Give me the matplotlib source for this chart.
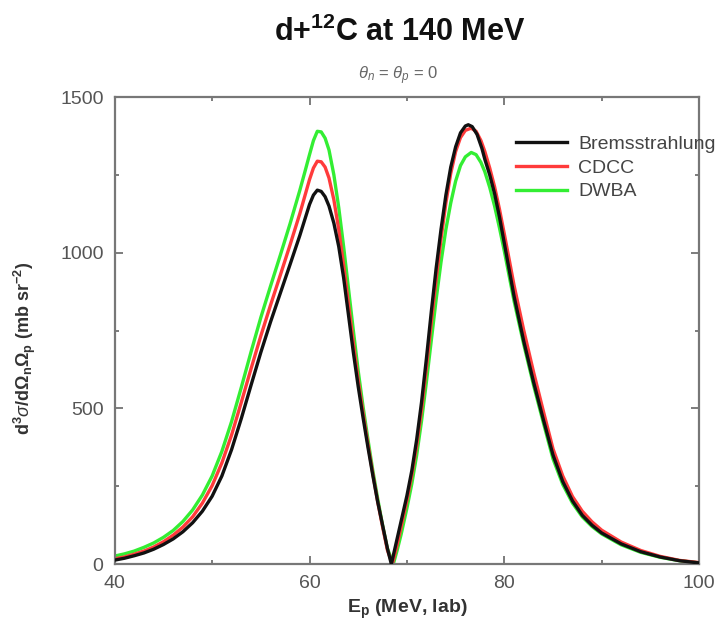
import numpy as np
import matplotlib
matplotlib.use('Agg')
import matplotlib.pyplot as plt
from matplotlib.ticker import MultipleLocator

plt.rcParams['font.family'] = ['Liberation Sans', 'DejaVu Sans']
plt.rcParams['mathtext.fontset'] = 'custom'
plt.rcParams['mathtext.rm'] = 'Liberation Sans'
plt.rcParams['mathtext.it'] = 'Liberation Sans:italic'
plt.rcParams['mathtext.bf'] = 'Liberation Sans:bold'

# proton energy (MeV, lab) and cross sections (mb sr^-2) for each model
e_brems = [40, 41, 42, 43, 44, 45, 46, 47, 48, 49, 50, 51, 52, 53, 54, 55, 56, 57, 58, 59, 59.5, 60, 60.4,
           60.8, 61.2, 61.6, 62, 62.5, 63, 63.5, 64, 64.5, 65, 65.5, 66, 66.5, 67, 67.5, 68, 68.4, 68.8, 69.2,
           70, 70.5, 71, 71.5, 72, 72.5, 73, 73.5, 74, 74.5, 75, 75.5, 76, 76.3, 76.7, 77.2, 77.7, 78, 78.5,
           79, 79.5, 80, 80.5, 81, 82, 83, 84, 85, 86, 87, 88, 89, 90, 92, 94, 96, 98, 100]
xs_brems = [13, 19, 27, 36, 48, 63, 81, 104, 133, 170, 218, 283, 368, 468, 575, 680, 778, 870, 962, 1055, 1105,
            1155, 1185, 1201, 1197, 1180, 1150, 1095, 1020, 920, 800, 680, 570, 470, 375, 285, 200, 125, 50, 0,
            55, 110, 220, 300, 400, 520, 660, 810, 950, 1075, 1185, 1275, 1340, 1385, 1407, 1411, 1405, 1380,
            1335, 1300, 1250, 1190, 1115, 1030, 945, 860, 715, 585, 465, 350, 265, 203, 157, 125, 100, 65, 40,
            23, 11, 4]

e_cdcc = [40, 41, 42, 43, 44, 45, 46, 47, 48, 49, 50, 51, 52, 53, 54, 55, 56, 57, 58, 59, 59.5, 60, 60.4,
          60.8, 61.2, 61.6, 62, 62.5, 63, 63.5, 64, 64.5, 65, 65.5, 66, 66.5, 67, 67.5, 68, 68.5, 68.9, 69.3,
          70, 70.5, 71, 71.5, 72, 72.5, 73, 73.5, 74, 74.5, 75, 75.5, 76, 76.6, 77.1, 77.6, 78, 78.5,
          79, 79.5, 80, 80.5, 81, 82, 83, 84, 85, 86, 87, 88, 89, 90, 92, 94, 96, 98, 100]
xs_cdcc = [17, 23, 32, 42, 55, 72, 93, 119, 152, 196, 252, 325, 415, 520, 628, 733, 832, 928, 1025, 1125, 1180,
           1235, 1272, 1294, 1292, 1275, 1240, 1170, 1075, 960, 835, 710, 590, 485, 385, 290, 200, 120, 45, 0,
           50, 105, 205, 285, 380, 495, 630, 775, 915, 1045, 1160, 1255, 1325, 1370, 1393, 1400, 1390, 1360,
           1325, 1272, 1212, 1140, 1060, 978, 895, 750, 617, 492, 370, 283, 217, 170, 136, 109, 71, 44, 25,
           12, 5]

e_dwba = [40, 41, 42, 43, 44, 45, 46, 47, 48, 49, 50, 51, 52, 53, 54, 55, 56, 57, 58, 59, 59.5, 60, 60.4,
          60.8, 61.2, 61.6, 62, 62.5, 63, 63.5, 64, 64.5, 65, 65.5, 66, 66.5, 67, 67.5, 68, 68.6, 69, 69.4,
          70, 70.5, 71, 71.5, 72, 72.5, 73, 73.5, 74, 74.5, 75, 75.5, 76, 76.6, 77.1, 77.6, 78, 78.5,
          79, 79.5, 80, 80.5, 81, 82, 83, 84, 85, 86, 87, 88, 89, 90, 92, 94, 96, 98, 100]
xs_dwba = [26, 33, 42, 54, 68, 86, 108, 137, 174, 222, 283, 362, 458, 568, 682, 792, 893, 992, 1093, 1200, 1257,
           1315, 1360, 1390, 1388, 1368, 1330, 1250, 1145, 1020, 885, 750, 620, 505, 400, 300, 210, 125, 50, 0,
           45, 95, 180, 258, 350, 460, 585, 718, 850, 970, 1075, 1160, 1230, 1280, 1308, 1322, 1315, 1290,
           1260, 1210, 1150, 1080, 1005, 925, 845, 705, 575, 455, 338, 256, 196, 152, 121, 97, 62, 38, 22,
           11, 4]

fig = plt.figure(figsize=(7.26, 6.22), dpi=100)
ax = fig.add_axes([0.158, 0.093, 0.805, 0.751])

ax.plot(e_brems, xs_brems, color='#111111', lw=2.4, label='Bremsstrahlung', zorder=3)
ax.plot(e_cdcc, xs_cdcc, color='#ff3b3b', lw=2.4, label='CDCC', zorder=2)
ax.plot(e_dwba, xs_dwba, color='#33ee33', lw=2.4, label='DWBA', zorder=1)

ax.set_xlim(40, 100)
ax.set_ylim(0, 1500)
ax.xaxis.set_major_locator(MultipleLocator(20))
ax.xaxis.set_minor_locator(MultipleLocator(10))
ax.yaxis.set_major_locator(MultipleLocator(500))
ax.yaxis.set_minor_locator(MultipleLocator(250))
ax.tick_params(which='both', direction='in', top=True, right=True, colors='#666666',
               labelcolor='#555555', labelsize=14, width=1.2)
ax.tick_params(which='major', length=6, pad=8)
ax.tick_params(which='minor', length=3)
for s in ax.spines.values():
    s.set_color('#777777')
    s.set_linewidth(1.6)

ax.set_xlabel(r'$\mathbf{E_p}$ (MeV, lab)', fontsize=14, fontweight='bold', color='#333333', labelpad=4)
ax.set_ylabel(r'$\mathbf{d^3}\sigma\mathbf{/d\Omega_n\Omega_p}$ (mb sr$^{\mathbf{-2}}$)', fontsize=13,
              fontweight='bold', color='#333333')
ax.yaxis.set_label_coords(-0.132, 0.4625)

fig.text(0.551, 0.934, r'd+$^{\mathbf{12}}$C at 140 MeV', ha='center', va='baseline',
         fontsize=22, fontweight='bold', color='#111111')
fig.text(0.548, 0.879, r'$\theta_n$ = $\theta_p$ = 0', ha='center', va='center',
         fontsize=12, color='#666666')

leg = ax.legend(loc='upper left', bbox_to_anchor=(0.674, 0.935), frameon=False, fontsize=14,
                handlelength=2.6, handletextpad=0.57, labelspacing=0.32, borderaxespad=0)
for t in leg.get_texts():
    t.set_color('#444444')

fig.savefig('out.png', dpi=100)
